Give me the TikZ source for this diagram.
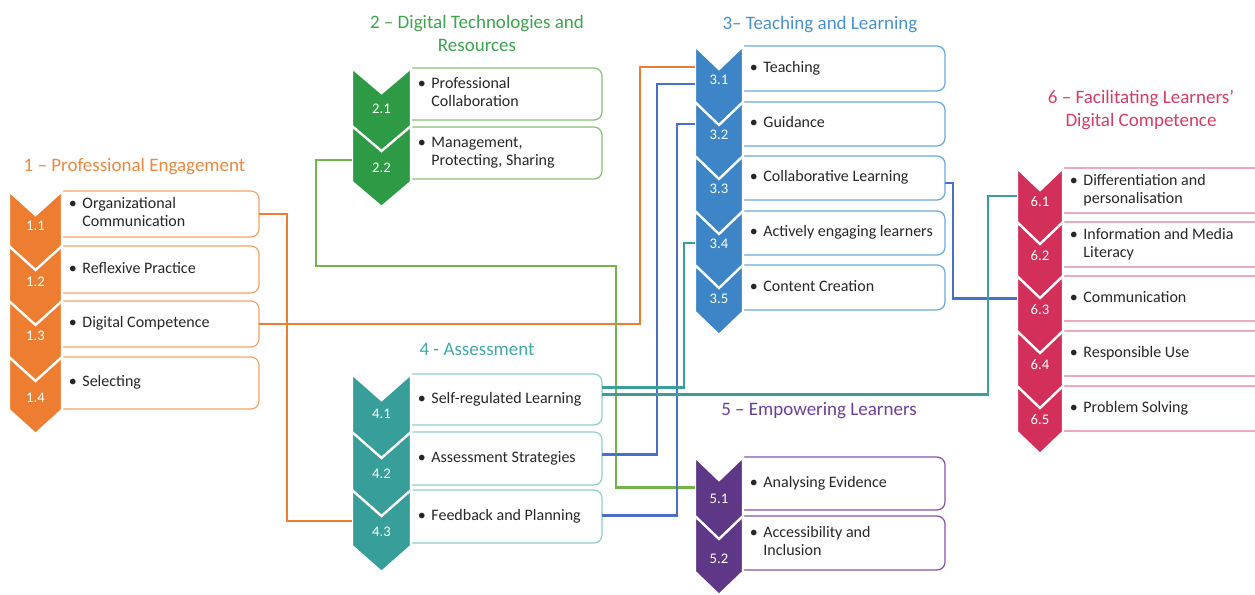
\documentclass[tikz,border=0pt]{standalone}
\usepackage{fontspec}
\setmainfont{Carlito}
\usetikzlibrary{calc}
\definecolor{ochev}{HTML}{ED7D31}\definecolor{otit}{HTML}{EF8741}\definecolor{obox}{HTML}{F2A36B}\definecolor{oconn}{HTML}{ED7D31}
\definecolor{gchev}{HTML}{2F9A45}\definecolor{gtit}{HTML}{3DA34F}\definecolor{gbox}{HTML}{86C271}\definecolor{gconn}{HTML}{74B44A}
\definecolor{bchev}{HTML}{3D85C6}\definecolor{btit}{HTML}{4A90D2}\definecolor{bbox}{HTML}{6AA6DE}\definecolor{bconn}{HTML}{4A6FCB}
\definecolor{tchev}{HTML}{379E99}\definecolor{ttit}{HTML}{42A8A3}\definecolor{tbox}{HTML}{8ED0CB}\definecolor{tconn}{HTML}{3A9E9A}
\definecolor{pchev}{HTML}{5E3786}\definecolor{ptit}{HTML}{6B3F97}\definecolor{pbox}{HTML}{8352B0}
\definecolor{rchev}{HTML}{D2305B}\definecolor{rtit}{HTML}{D83B65}\definecolor{rbox}{HTML}{E27E98}
\definecolor{textc}{HTML}{262626}
\newcommand\myitem[1]{\begin{tabular}{@{}l@{\hspace{3.5pt}}l@{}}\makebox[7.5pt]{\textbullet}&#1\end{tabular}}
% name, x1, x2, top, bottom, border colour, text
\newcommand\mybox[7]{%
  \node[boxnode, minimum width={(#3-#2)*0.75pt}, minimum height={(#5-#4)*0.75pt}] (#1) at ({(#2+#3)/2},{(#4+#5)/2}) {};
  \draw[boxline, draw=#6] (#1.north west) -- (#1.north east) -- (#1.south east) -- (#1.south west);
  \node[itemtext] (t#1) at ($(#1.west)+(5.5,0)$) {\myitem{#7}};}
% name, x0, x1, top, bottom, depth, colour
\newcommand\mychev[7]{%
  \node[chevnode, minimum width={(#3-#2)*0.75pt}, minimum height={(#5-#4)*0.75pt}] (#1) at ({(#2+#3)/2},{(#4+#5)/2}) {};
  \filldraw[fill=#7, chevline] (#1.north west) -- ($(#1.north)+(0,#6)$) -- (#1.north east) -- (#1.south east) -- ($(#1.south)+(0,#6)$) -- (#1.south west) -- cycle;}
\begin{document}
\begin{tikzpicture}[x=0.75pt,y=-0.75pt,
  boxnode/.style={draw=none, inner sep=0pt, outer sep=0pt, rectangle},
  boxline/.style={line width=0.9pt, rounded corners=6pt},
  chevnode/.style={draw=none, inner sep=0pt, outer sep=0pt, rectangle},
  chevline/.style={draw=white, line width=1.8pt, line join=miter},
  chevlab/.style={text=white, font=\fontsize{11}{12}\selectfont, inner sep=0pt},
  itemtext/.style={anchor=west, inner sep=0pt, text=textc, font=\fontsize{12}{13.5}\selectfont},
  titletext/.style={inner sep=0pt, align=center, font=\fontsize{14.25}{17.25}\selectfont},
  conn/.style={line width=2pt}]
\clip (0,0) rectangle (1255,595);
% ---------- boxes ----------
\mybox{b11}{62}{259}{191}{237}{obox}{Organizational\\&Communication}
\mybox{b12}{62}{259}{246}{293}{obox}{Reflexive Practice}
\mybox{b13}{62}{259}{301}{347}{obox}{Digital Competence}
\mybox{b14}{62}{259}{357}{409}{obox}{Selecting}
\mybox{b21}{411}{602}{68}{120}{gbox}{Professional\\&Collaboration}
\mybox{b22}{411}{602}{127}{179}{gbox}{Management,\\&Protecting, Sharing}
\mybox{b31}{743}{945}{46}{91}{bbox}{Teaching}
\mybox{b32}{743}{945}{102}{146}{bbox}{Guidance}
\mybox{b33}{743}{945}{156}{200}{bbox}{Collaborative Learning}
\mybox{b34}{743}{945}{211}{255}{bbox}{Actively engaging learners}
\mybox{b35}{743}{945}{265}{310}{bbox}{Content Creation}
\mybox{b41}{411}{602}{374}{425}{tbox}{Self-regulated Learning}
\mybox{b42}{411}{602}{432}{485}{tbox}{Assessment Strategies}
\mybox{b43}{411}{602}{490}{543}{tbox}{Feedback and Planning}
\mybox{b51}{743}{945}{457}{510}{pbox}{Analysing Evidence}
\mybox{b52}{743}{945}{516}{570}{pbox}{Accessibility and\\&Inclusion}
\mybox{b61}{1063}{1285}{168}{213}{rbox}{Differentiation and\\&personalisation}
\mybox{b62}{1063}{1285}{222}{267}{rbox}{Information and Media\\&Literacy}
\mybox{b63}{1063}{1285}{276}{321}{rbox}{Communication}
\mybox{b64}{1063}{1285}{331}{376}{rbox}{Responsible Use}
\mybox{b65}{1063}{1285}{386}{431}{rbox}{Problem Solving}
% ---------- chevrons ----------
\mychev{c11}{9}{62}{191}{248}{24}{ochev}
\mychev{c12}{9}{62}{246}{303}{24}{ochev}
\mychev{c13}{9}{62}{301}{359}{24}{ochev}
\mychev{c14}{9}{62}{357}{410}{24}{ochev}
\mychev{c21}{352}{411}{68}{128}{25}{gchev}
\mychev{c22}{352}{411}{126}{182}{25}{gchev}
\mychev{c31}{695}{743}{46}{104}{23}{bchev}
\mychev{c32}{695}{743}{102}{158}{23}{bchev}
\mychev{c33}{695}{743}{156}{213}{23}{bchev}
\mychev{c34}{695}{743}{211}{267}{23}{bchev}
\mychev{c35}{695}{743}{265}{312}{23}{bchev}
\mychev{c41}{352}{411}{374}{434}{26}{tchev}
\mychev{c42}{352}{411}{432}{492}{26}{tchev}
\mychev{c43}{352}{411}{490}{546}{26}{tchev}
\mychev{c51}{695}{743}{457}{518}{23}{pchev}
\mychev{c52}{695}{743}{516}{572}{23}{pchev}
\mychev{c61}{1017}{1063}{168}{224}{22}{rchev}
\mychev{c62}{1017}{1063}{222}{278}{22}{rchev}
\mychev{c63}{1017}{1063}{276}{333}{22}{rchev}
\mychev{c64}{1017}{1063}{331}{388}{22}{rchev}
\mychev{c65}{1017}{1063}{386}{432}{22}{rchev}
% ---------- chevron labels ----------
\node[chevlab] (l11) at (35.5,226) {1.1};
\node[chevlab] (l12) at (35.5,282) {1.2};
\node[chevlab] (l13) at (35.5,336) {1.3};
\node[chevlab] (l14) at (35.5,398) {1.4};
\node[chevlab] (l21) at (381.5,109) {2.1};
\node[chevlab] (l22) at (381.5,168) {2.2};
\node[chevlab] (l31) at (719,80) {3.1};
\node[chevlab] (l32) at (719,135) {3.2};
\node[chevlab] (l33) at (719,189) {3.3};
\node[chevlab] (l34) at (719,244) {3.4};
\node[chevlab] (l35) at (719,299) {3.5};
\node[chevlab] (l41) at (381.5,414) {4.1};
\node[chevlab] (l42) at (381.5,474) {4.2};
\node[chevlab] (l43) at (381.5,532) {4.3};
\node[chevlab] (l51) at (719,499) {5.1};
\node[chevlab] (l52) at (719,559) {5.2};
\node[chevlab] (l61) at (1040,202) {6.1};
\node[chevlab] (l62) at (1040,256) {6.2};
\node[chevlab] (l63) at (1040,310) {6.3};
\node[chevlab] (l64) at (1040,365) {6.4};
\node[chevlab] (l65) at (1040,420) {6.5};
% ---------- titles ----------
\node[titletext, text=otit] (h1) at (134.5,167) {1 – Professional Engagement};
\node[titletext, text=gtit] (h2) at (477,33) {2 – Digital Technologies and\\Resources};
\node[titletext, text=btit] (h3) at (820,25) {3– Teaching and Learning};
\node[titletext, text=ttit] (h4) at (477,349) {4 - Assessment};
\node[titletext, text=ptit] (h5) at (819,411) {5 – Empowering Learners};
\node[titletext, text=rtit] (h6) at (1141,110) {6 – Facilitating Learners’\\Digital Competence};
% ---------- connectors ----------
\draw[conn, draw=oconn] (b11.east) -| ($(c43.west)+(-65,3)$) -- ($(c43.west)+(0,3)$);
\draw[conn, draw=oconn] (b13.east) -| ($(c31.west)+(-55,-8)$) -- ($(c31.west)+(0,-8)$);
\draw[conn, draw=gconn] ($(c22.west)+(0,6)$) -| (316,266) -| ($(c51.west)+(-79,0)$) -- (c51.west);
\draw[conn, draw=bconn] ($(b42.east)+(0,-4)$) -| ($(c31.west)+(-38,9)$) -- ($(c31.west)+(0,9)$);
\draw[conn, draw=bconn] ($(b43.east)+(0,-1)$) -| ($(c32.west)+(-18,-6)$) -- ($(c32.west)+(0,-6)$);
\draw[conn, draw=bconn] ($(b33.east)+(0,5)$) -| ($(c63.west)+(-64,-6)$) -- ($(c63.west)+(0,-6)$);
\draw[conn, draw=tconn] ($(b41.east)+(0,-12)$) -| ($(c34.west)+(-11,4)$) -- ($(c34.west)+(0,4)$);
\draw[conn, draw=tconn] ($(b41.east)+(0,-5)$) -| ($(c61.west)+(-29,0)$) -- (c61.west);
\end{tikzpicture}
\end{document}
